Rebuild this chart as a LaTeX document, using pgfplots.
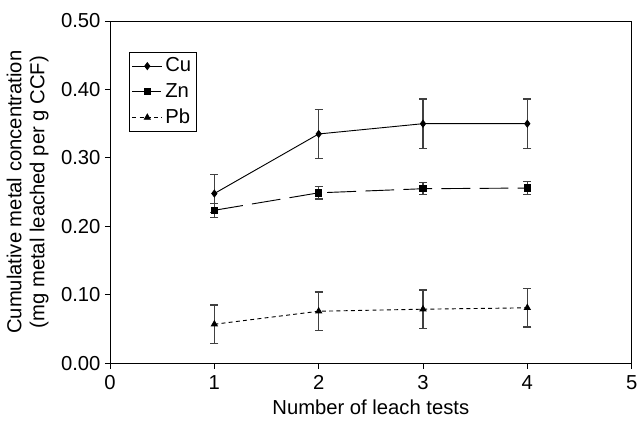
\documentclass[border=0pt]{standalone}
\usepackage{pgfplots}
\pgfplotsset{compat=1.18}
\usepackage{fontspec}
\setmainfont{Liberation Sans}

\begin{document}
\begin{tikzpicture}
\fontsize{15.4pt}{17.5pt}\selectfont
\begin{axis}[
    scale only axis,
    width=397pt, height=260.5pt,
    xmin=0, xmax=5, ymin=0, ymax=0.5,
    xtick={0,1,2,3,4,5},
    ytick={0,0.1,0.2,0.3,0.4,0.5},
    tick align=outside,
    xtick pos=left, ytick pos=left,
    major tick length=4pt,
    axis line style={line width=0.7pt},
    tick style={line width=0.7pt, black},
    /pgf/number format/assume math mode=true,
    yticklabel style={/pgf/number format/fixed, /pgf/number format/zerofill, /pgf/number format/precision=2, xshift=2pt},
    xlabel={Number of leach tests},
    ylabel={Cumulative metal concentration\\(mg metal leached per g CCF)},
    ylabel style={align=center, yshift=-1pt},
    xlabel style={yshift=3pt},
    legend style={at={(0.036,0.91)}, anchor=north west, draw=black, line width=0.7pt,
        row sep=2.5pt, inner sep=2pt, font=\fontsize{15.4pt}{17.5pt}\selectfont},
    legend cell align=left,
    legend image code/.code={
        \draw[mark repeat=2,mark phase=2] plot coordinates {(0cm,0cm) (0.4cm,0cm) (0.8cm,0cm)};
    },
    error bars/error bar style={line width=0.9pt, black!75, solid},
    error bars/error mark options={rotate=90, mark size=3pt, line width=0.9pt, black!75, solid},
]
% Cu
\addplot[black, line width=0.7pt, mark=diamond*, mark size=2.6pt,
    error bars/.cd, y dir=both, y explicit]
    coordinates {
    (1,0.248) +- (0,0.028)
    (2,0.335) +- (0,0.036)
    (3,0.350) +- (0,0.036)
    (4,0.350) +- (0,0.036)
    };
% Zn
\addplot[black, line width=0.7pt, dash pattern=on 22pt off 7pt, mark=square*, mark size=2.4pt,
    mark options={solid},
    error bars/.cd, y dir=both, y explicit]
    coordinates {
    (1,0.2235) +- (0,0.010)
    (2,0.249) +- (0,0.009)
    (3,0.255) +- (0,0.009)
    (4,0.256) +- (0,0.010)
    };
% Pb
\addplot[black, line width=0.7pt, dash pattern=on 3pt off 2.5pt, mark=triangle*, mark size=2.6pt,
    mark options={solid},
    error bars/.cd, y dir=both, y explicit]
    coordinates {
    (1,0.057) +- (0,0.028)
    (2,0.076) +- (0,0.028)
    (3,0.079) +- (0,0.028)
    (4,0.081) +- (0,0.028)
    };
\legend{Cu, Zn, Pb}
\end{axis}
\path ([yshift=16pt]current axis.north);
\path ([yshift=-1pt]current axis.outer south);
\end{tikzpicture}
\end{document}
